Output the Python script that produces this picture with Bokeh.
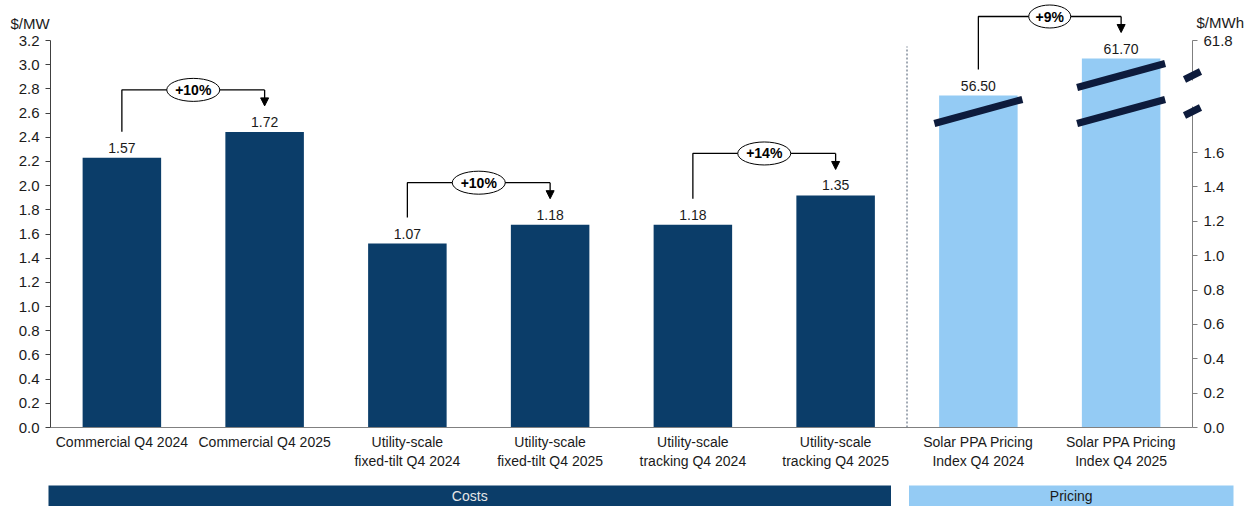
from bokeh.plotting import figure
from bokeh.models import (Range1d, LinearAxis, FixedTicker, ColumnDataSource,
                          Arrow, NormalHead, CustomJSTickFormatter)
from bokeh.embed import file_html
from bokeh.resources import INLINE
from bokeh.core.properties import value

# ---------------- data ----------------
categories = [
    "Commercial Q4 2024", "Commercial Q4 2025",
    "Utility-scale\nfixed-tilt Q4 2024", "Utility-scale\nfixed-tilt Q4 2025",
    "Utility-scale\ntracking Q4 2024", "Utility-scale\ntracking Q4 2025",
    "Solar PPA Pricing\nIndex Q4 2024", "Solar PPA Pricing\nIndex Q4 2025",
]
cost_values = [1.57, 1.72, 1.07, 1.18, 1.18, 1.35]      # right axis units
ppa_values = [56.50, 61.70]                              # $/MWh
pair_changes = ["+10%", "+10%", "+14%", "+9%"]
left_ticks = [0.0, 0.2, 0.4, 0.6, 0.8, 1.0, 1.2, 1.4, 1.6, 1.8, 2.0, 2.2, 2.4, 2.6, 2.8, 3.0, 3.2]
right_ticks = [0.0, 0.2, 0.4, 0.6, 0.8, 1.0, 1.2, 1.4, 1.6]
right_top_label = "61.8"
groups = ["Costs", "Pricing"]
group_spans = [(0, 6), (6, 8)]   # category index spans

# ---------------- style / layout ----------------
FONT = "Liberation Sans"
NAVY = "#0b3d69"
LIGHT = "#94cbf4"
BREAK = "#0d1b3c"
TXT = "#1a1a1a"

W, H = 1251, 506
AX_L, AX_R = 50, 1192          # axis x positions (px)
BASE, TOP = 427, 40            # baseline and top tick (px from top)
N = len(categories)
PX_CAT = (AX_R - AX_L) / N

ppu_left = (BASE - TOP) / 3.2
ppu_right = (BASE - 152) / 1.6
ppu_ppa = (95 - 58) / (ppa_values[1] - ppa_values[0])
ppa_floor = ppa_values[0] - (BASE - 95) / ppu_ppa
right_top = (BASE - TOP) / ppu_right

p = figure(width=W, height=H,
           x_range=Range1d(-AX_L / PX_CAT, (W - AX_L) / PX_CAT),
           y_range=Range1d(-(H - BASE) / ppu_left, BASE / ppu_left),
           x_axis_location=None, y_axis_location=None,
           output_backend="svg", toolbar_location=None,
           min_border=0, min_border_left=0, min_border_right=0, min_border_top=0, min_border_bottom=0,
           outline_line_color=None, background_fill_color="white")
p.extra_y_ranges = {
    "right": Range1d(-(H - BASE) / ppu_right, BASE / ppu_right),
    "ppa": Range1d(ppa_floor - (H - BASE) / ppu_ppa, ppa_floor + BASE / ppu_ppa),
}
p.grid.visible = False

xpos = [i + 0.5 for i in range(N)]

# y axes
ya = LinearAxis(fixed_location=0, bounds=(0, 3.2), ticker=FixedTicker(ticks=left_ticks),
                formatter=CustomJSTickFormatter(code="return tick.toFixed(1);"))
ra = LinearAxis(y_range_name="right", fixed_location=N, bounds=(0, right_top),
                ticker=FixedTicker(ticks=right_ticks + [right_top]),
                formatter=CustomJSTickFormatter(
                    code="return tick > 2 ? '%s' : tick.toFixed(1);" % right_top_label))
for ax, col in ((ya, "#404040"), (ra, "#7f7f7f")):
    ax.minor_tick_line_color = None
    ax.major_tick_out = 5
    ax.major_tick_in = 0
    ax.axis_line_color = col
    ax.major_tick_line_color = col
    ax.major_label_text_font = FONT
    ax.major_label_text_font_size = "15px"
    ax.major_label_text_color = TXT
    ax.major_label_standoff = 6
p.add_layout(ya, "left")
p.add_layout(ra, "right")

# x axis
xa = LinearAxis(fixed_location=0, bounds=(0, N), ticker=FixedTicker(ticks=xpos),
                formatter=CustomJSTickFormatter(args=dict(labels=categories),
                                                code="return labels[Math.round(tick - 0.5)];"))
xa.axis_line_color = "#808080"
xa.major_tick_line_color = None
xa.minor_tick_line_color = None
xa.major_label_text_font = FONT
xa.major_label_text_font_size = "14px"
xa.major_label_text_color = TXT
xa.major_label_standoff = 0
p.add_layout(xa, "below")

# bars
cost_src = ColumnDataSource(dict(x=xpos[:6], top=cost_values,
                                 label=[f"{v:.2f}" for v in cost_values]))
p.vbar(x="x", top="top", bottom=0, width=0.55, source=cost_src, y_range_name="right",
       fill_color=NAVY, line_color=None)
p.text(x="x", y="top", text="label", source=cost_src, y_range_name="right",
       text_align="center", text_baseline="bottom", y_offset=-5,
       text_font=value(FONT), text_font_size="14px", text_color=TXT)

ppa_src = ColumnDataSource(dict(x=xpos[6:], top=ppa_values,
                                label=[f"{v:.2f}" for v in ppa_values]))
p.vbar(x="x", top="top", bottom=ppa_floor, width=0.55, source=ppa_src, y_range_name="ppa",
       fill_color=LIGHT, line_color=None)
p.text(x="x", y="top", text="label", source=ppa_src, y_range_name="ppa",
       text_align="center", text_baseline="bottom", y_offset=-5,
       text_font=value(FONT), text_font_size="14px", text_color=TXT)

# break marks on PPA bars (right-axis units)
lvl_hi = (BASE - 75) / ppu_right
lvl_lo = (BASE - 111) / ppu_right
dy = 12 / ppu_right
hx = 44 / PX_CAT
marks = [(xpos[6], lvl_lo), (xpos[7], lvl_hi), (xpos[7], lvl_lo)]
p.segment(x0=[m[0] - hx for m in marks], y0=[m[1] - dy for m in marks],
          x1=[m[0] + hx for m in marks], y1=[m[1] + dy for m in marks],
          y_range_name="right", line_color=BREAK, line_width=7, line_cap="butt")

# axis break (gap + marks), drawn above the axis
p.segment(x0=[N], y0=[lvl_lo + 5 / ppu_right], x1=[N], y1=[lvl_hi - 5 / ppu_right],
          y_range_name="right", line_color="white", line_width=4, level="annotation")
ax_hx = 8 / PX_CAT
ax_dy = 4 / ppu_right
p.segment(x0=[N - ax_hx] * 2, y0=[lvl_hi - ax_dy, lvl_lo - ax_dy],
          x1=[N + ax_hx] * 2, y1=[lvl_hi + ax_dy, lvl_lo + ax_dy],
          y_range_name="right", line_color=BREAK, line_width=7, line_cap="butt",
          level="annotation")

# dashed separator
p.segment(x0=[6.0], y0=[0], x1=[6.0], y1=[(BASE - 46) / ppu_left],
          line_color="#44546a", line_width=1, line_dash="2 2")

# brackets with change ovals
all_vals = cost_values + ppa_values
pairs = [(0, 1), (2, 3), (4, 5), (6, 7)]
for (i, j), chg in zip(pairs, pair_changes):
    rng, ppu = ("right", ppu_right) if j < 6 else ("ppa", ppu_ppa)
    v1, v2 = all_vals[i], all_vals[j]
    x1, x2 = xpos[i], xpos[j]
    ys = v1 + 26 / ppu
    yt = v2 + 26 / ppu
    yh = max(v1, v2) + 42 / ppu
    p.line([x1, x1, x2], [ys, yh, yh], y_range_name=rng, line_color="black", line_width=1.3)
    p.add_layout(Arrow(start=None, end=NormalHead(size=8, line_color="black", fill_color="black"),
                       x_start=x2, y_start=yh, x_end=x2, y_end=yt, y_range_name=rng,
                       line_color="black", line_width=1.3))
    xm = (x1 + x2) / 2
    p.ellipse(x=[xm], y=[yh], width=11 * len(chg) + 9, height=23, width_units="screen",
              height_units="screen", y_range_name=rng, fill_color="white",
              line_color="black", line_width=1)
    p.text(x=[xm], y=[yh], text=[chg], y_range_name=rng, text_align="center",
           text_baseline="middle", text_font=value(FONT), text_font_size="14px",
           text_font_style="bold", text_color="black")

# unit labels
p.text(x=[(10 - AX_L) / PX_CAT, (1196 - AX_L) / PX_CAT],
       y=[(BASE - 23) / ppu_left, (BASE - 22) / ppu_left], text=["$/MW", "$/MWh"],
       text_align="left", text_baseline="middle", text_font=value(FONT),
       text_font_size="15px", text_color=TXT)

# group bands
band_left = [group_spans[0][0] - 2 / PX_CAT, group_spans[1][0] + 2 / PX_CAT]
band_right = [group_spans[0][1] - 16 / PX_CAT, group_spans[1][1] + 41 / PX_CAT]
b_top = (BASE - 485) / ppu_left
b_bot = (BASE - H) / ppu_left
p.quad(left=band_left, right=band_right, bottom=b_bot, top=b_top,
       fill_color=[NAVY, LIGHT], line_color=None)
p.text(x=[(l + r) / 2 for l, r in zip(band_left, band_right)], y=[(BASE - 495) / ppu_left] * 2,
       text=groups, text_align="center", text_baseline="middle", text_font=value(FONT),
       text_font_size="14px", text_color=["#e6e6e6", TXT])

open("out.html", "w").write(file_html(p, INLINE))
